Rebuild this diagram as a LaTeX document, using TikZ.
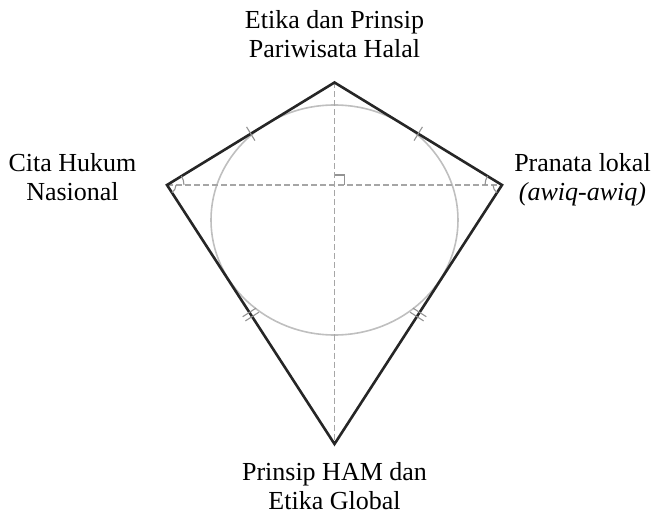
\documentclass[tikz,border=0pt]{standalone}
\usepackage{fontspec}
\setmainfont{Liberation Serif}
\usetikzlibrary{calc,angles,decorations.markings}

\begin{document}
\begin{tikzpicture}[x=1pt,y=1pt,
   side/.style={line width=2.6pt,line join=miter,black!85},
   diag/.style={dash pattern=on 6pt off 3pt,line width=1.8pt,gray!70},
   incirc/.style={line width=1.6pt,gray!50},
   mk/.style={gray!85,line width=1.1pt},
   onetick/.style={decorate,decoration={markings,
     mark=at position 0.5 with {\draw[mk] (0,-8pt)--(0,8pt);}}},
   twotick/.style={decorate,decoration={markings,
     mark=at position 0.5 with {\draw[mk] (-2.5pt,-8pt)--(-2.5pt,8pt) (2.5pt,-8pt)--(2.5pt,8pt);}}},
   lbl/.style={align=center,inner sep=0pt,font=\fontsize{26}{29}\selectfont}]
  \useasboundingbox (0,0) rectangle (654,515);
  % kite corners
  \coordinate (T) at (334.5,432.5);
  \coordinate (L) at (167,330);
  \coordinate (R) at (502,330);
  \coordinate (B) at (334.5,71);
  \coordinate (O) at (334.5,330);
  % inscribed circle
  \draw[incirc] (334.5,295) ellipse [x radius=123.5,y radius=115];
  % diagonals
  \draw[diag] (T)--(B);
  \draw[diag] (L)--(R);
  % kite sides
  \draw[side] (T)--(R)--(B)--(L)--cycle;
  % equal side marks
  \path[onetick] (L)--(T);
  \path[onetick] (T)--(R);
  \path[twotick] (L)--(B);
  \path[twotick] (R)--(B);
  % angle marks
  \pic[draw,mk,angle radius=17pt] {angle=R--L--T};
  \pic[draw,mk,angle radius=9pt] {angle=B--L--R};
  \pic[draw,mk,angle radius=17pt] {angle=T--R--L};
  \pic[draw,mk,angle radius=9pt] {angle=L--R--B};
  \pic[draw,mk,angle radius=10pt] {right angle=R--O--T};
  % labels
  \node[lbl] (etika) at (334.5,481) {Etika dan Prinsip\\Pariwisata Halal};
  \node[lbl] (ham) at (334.5,29) {Prinsip HAM dan\\Etika Global};
  \node[lbl] (cita) at (72.5,338) {Cita Hukum\\Nasional};
  \node[lbl] (pranata) at (582.5,335) {Pranata lokal\\\textit{(awiq-awiq)}};
\end{tikzpicture}
\end{document}
